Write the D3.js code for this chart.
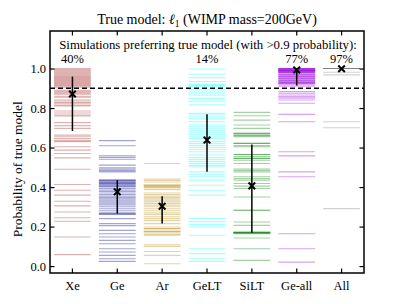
<!DOCTYPE html>
<html><head><meta charset="utf-8">
<script src="https://cdn.jsdelivr.net/npm/d3@7"></script>
<style>body{margin:0;background:#fff}svg{display:block}svg text{font-family:"Liberation Serif","Times New Roman","DejaVu Serif",serif !important;fill:#000}</style>
</head><body>
<svg id="c" width="405" height="304"></svg>
<script>
const categories = ["Xe","Ge","Ar","GeLT","SiLT","Ge-all","All"];
const colors = ["#a52a2a","#00008b","#b8860b","#00ffff","#008000","#9400d3","#808080"];
const percentLabels = ["40%","","","14%","","77%","97%"];
const yTicks = [0.0,0.2,0.4,0.6,0.8,1.0];
const threshold = 0.9;

const xeVals = [1.0,0.995,0.99,0.985,0.98,0.975,0.97,0.965,0.96,0.955,0.95,0.945,0.94,0.935,0.93,0.925,0.92,0.915,0.91,0.905,
  0.89,0.885,0.88,0.875,0.87,0.86,0.855,0.84,0.83,0.825,0.815,0.81,0.785,0.775,0.765,0.76,0.726,0.711,0.697,
  0.663,0.655,0.645,0.635,0.63,0.604,0.587,0.57,0.548,0.49,0.413,0.384,0.359,0.328,0.305,0.274,0.245,0.227,0.147,0.058];
const geVals = [0.635,0.609,0.558,0.55,0.541,0.511,0.497,0.49,0.483,0.477,
  0.435,0.43,0.425,0.42,0.415,0.41,0.405,0.401,0.435,0.42,
  0.393,0.385,0.378,0.37,0.362,0.355,0.348,0.34,0.333,0.325,0.318,0.31,0.30,0.29,0.28,0.27,0.264,0.264,0.264,
  0.24,0.215,0.205,0.181,0.164,0.147,0.13,0.113,0.088,0.071,0.054,0.037,0.024];
const arVals = [0.519,0.44,0.433,0.426,0.41,0.405,0.40,0.395,0.387,0.41,0.40,
  0.37,0.362,0.355,0.348,0.34,0.333,0.325,0.316,
  0.308,0.30,0.29,0.28,0.27,0.262,0.25,0.24,0.23,0.215,
  0.198,0.19,0.183,0.175,0.168,0.16,0.156,0.19,0.175,
  0.108,0.1,0.074,0.054,0.012];
const geltVals = [0.998,0.971,0.954,0.934,0.92,0.915,0.909,
  0.892,0.88,0.866,0.849,0.835,0.816,
  0.773,0.765,0.755,0.745,0.731,
  0.714,0.705,0.695,0.685,0.675,0.665,0.655,0.646,
  0.63,0.62,0.61,0.6,0.59,0.579,
  0.562,0.55,0.54,0.53,0.52,0.51,0.503,
  0.477,0.465,0.452,0.435,0.409,0.384,0.359,
  0.24,0.225,0.21,0.198,0.156,0.088,0.063,0.037,0.024];
const siltVals = [0.778,0.761,0.739,0.714,0.697,0.672,0.665,0.66,0.655,0.672,0.66,
  0.621,0.61,0.604,0.621,
  0.565,0.555,0.545,0.536,0.565,0.545,
  0.519,0.491,0.484,0.477,0.452,0.443,0.435,0.418,0.405,0.393,
  0.35,0.283,0.283,0.223,0.206,
  0.173,0.17,0.168,0.166,0.164,0.17,0.168,
  0.142,0.088,0.029];
const geallVals = [1.0,1.0,0.998,0.996,0.994,0.992,0.99,0.99,0.988,0.986,0.984,0.982,0.98,0.976,0.972,0.968,0.964,0.96,0.955,0.95,
  0.946,0.942,0.938,0.934,0.93,0.926,0.922,0.917,0.97,0.96,0.95,0.94,0.93,0.995,0.985,1.0,0.99,0.98,0.925,0.91,
  0.883,0.875,0.866,0.858,0.85,0.841,0.824,0.768,0.731,0.579,0.558,0.477,0.452,0.164,0.088,0.02];
const allVals = [1.0,1.0,1.0,1.0,1.0,1.0,1.0,1.0,1.0,1.0,0.981,0.968,0.731,0.70,0.291];
const seriesVals = [xeVals,geVals,arVals,geltVals,siltVals,geallVals,allVals];

const errMid = [0.871,0.376,0.303,0.638,0.406,0.993,0.999];
const errLo  = [0.684,0.266,0.215,0.477,0.169,0.914,0.995];
const errHi  = [0.959,0.435,0.354,0.768,0.616,1.0,1.0];

const FONT = "Liberation Serif, Times New Roman, serif";
const svg = d3.select("#c");
const L=50,R=364,T=31,B=273;
const x = d3.scaleBand().domain(categories).range([L,R]).paddingInner(0);
const bw = x.bandwidth();
const cx = c => x(c)+bw/2;
const y = d3.scaleLinear().domain([-0.035,1.19]).range([B,T]);
const hw = bw*0.41;

// lines
categories.forEach((c,i)=>{
  svg.append("g").selectAll("line").data(seriesVals[i]).join("line")
    .attr("x1",cx(c)-hw).attr("x2",cx(c)+hw)
    .attr("y1",d=>y(d)).attr("y2",d=>y(d))
    .attr("stroke",colors[i]).attr("stroke-opacity",0.36).attr("stroke-width",1.1);
});

// dashed threshold
svg.append("line").attr("x1",L).attr("x2",R).attr("y1",y(threshold)).attr("y2",y(threshold))
  .attr("stroke","#000").attr("stroke-width",1.4).attr("stroke-dasharray","5,3");

// error bars
categories.forEach((c,i)=>{
  svg.append("line").attr("x1",cx(c)).attr("x2",cx(c)).attr("y1",y(errLo[i])).attr("y2",y(errHi[i]))
    .attr("stroke","#000").attr("stroke-width",1.5);
  const s=3.3, px=cx(c), py=y(errMid[i]);
  svg.append("path").attr("d",`M${px-s},${py-s}L${px+s},${py+s}M${px-s},${py+s}L${px+s},${py-s}`)
    .attr("stroke","#000").attr("stroke-width",2);
});

// axes
const axL = d3.axisLeft(y).tickValues(yTicks).tickFormat(d3.format(".1f")).tickSizeInner(-4.5).tickSizeOuter(0).tickPadding(4);
const axR = d3.axisRight(y).tickValues(yTicks).tickFormat("").tickSizeInner(-4.5).tickSizeOuter(0);
const axB = d3.axisBottom(x).tickSizeInner(-4.5).tickSizeOuter(0).tickPadding(8);
const axT = d3.axisTop(x).tickFormat("").tickSizeInner(-4.5).tickSizeOuter(0);
function style(g){g.attr("font-family",FONT);g.select(".domain").remove();g.selectAll("line").attr("stroke","#000").attr("stroke-width",1.2);
  g.selectAll("text").attr("font-size",12.5).attr("font-family",FONT).attr("fill","#000");}
svg.append("g").attr("transform",`translate(${L},0)`).call(axL).call(style);
svg.append("g").attr("transform",`translate(${R},0)`).call(axR).call(style);
svg.append("g").attr("transform",`translate(0,${B})`).call(axB).call(style);
svg.append("g").attr("transform",`translate(0,${T})`).call(axT).call(style);
svg.append("rect").attr("x",L).attr("y",T).attr("width",R-L).attr("height",B-T)
  .attr("fill","none").attr("stroke","#000").attr("stroke-width",1.5);

// titles
const t = svg.append("text").attr("x",(L+R)/2).attr("y",24).attr("text-anchor","middle").attr("font-size",14).attr("font-family",FONT);
t.append("tspan").text("True model: ");
t.append("tspan").text("ℓ").attr("font-style","italic");
t.append("tspan").text("1").attr("font-size",9.5).attr("dy",3);
t.append("tspan").text(" (WIMP mass=200GeV)").attr("dy",-3);

svg.append("text").attr("x",(L+R)/2+1).attr("y",49).attr("text-anchor","middle").attr("font-size",12.8).attr("font-family",FONT)
  .text("Simulations preferring true model (with >0.9 probability):");
svg.selectAll(".pct").data(categories).join("text").attr("class","pct")
  .attr("x",d=>cx(d)).attr("y",63).attr("text-anchor","middle").attr("font-size",12.5).attr("font-family",FONT)
  .text((d,i)=>percentLabels[i]);

svg.append("text").attr("transform",`translate(22,${(y(0)+y(1))/2+2}) rotate(-90)`).attr("text-anchor","middle")
  .attr("font-size",13.5).attr("font-family",FONT).text("Probability of true model");
</script>
</body></html>
